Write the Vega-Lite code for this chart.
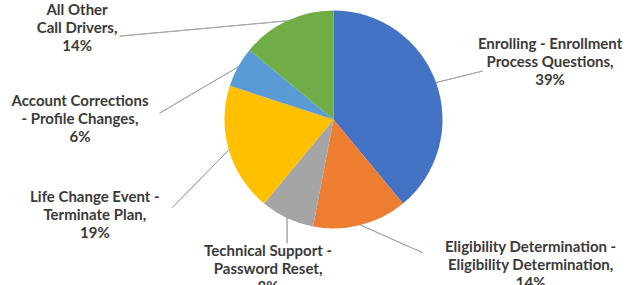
{
  "$schema": "https://vega.github.io/schema/vega-lite/v6.json",
  "width": 587,
  "height": 239,
  "autosize": "none",
  "padding": {"left": 40, "top": 0, "right": 0, "bottom": 46},
  "background": "white",
  "config": {"view": {"stroke": null}},
  "data": {
    "values": [
      {"category": "Enrolling - Enrollment Process Questions", "label": "Enrolling - Enrollment\nProcess Questions,\n39%", "value": 39},
      {"category": "Eligibility Determination - Eligibility Determination", "label": "Eligibility Determination -\nEligibility Determination,\n14%", "value": 14},
      {"category": "Technical Support - Password Reset", "label": "Technical Support -\nPassword Reset,\n8%", "value": 8},
      {"category": "Life Change Event - Terminate Plan", "label": "Life Change Event -\nTerminate Plan,\n19%", "value": 19},
      {"category": "Account Corrections - Profile Changes", "label": "Account Corrections\n- Profile Changes,\n6%", "value": 6},
      {"category": "All Other Call Drivers", "label": "All Other\nCall Drivers,\n14%", "value": 14}
    ]
  },
  "transform": [{"window": [{"op": "row_number", "as": "idx"}]}],
  "encoding": {
    "theta": {"field": "value", "type": "quantitative", "stack": true},
    "order": {"field": "idx", "type": "quantitative"},
    "detail": {"field": "category", "type": "nominal"}
  },
  "layer": [
    {
      "mark": {"type": "arc", "outerRadius": 109},
      "encoding": {
        "color": {
          "field": "category",
          "type": "nominal",
          "legend": null,
          "scale": {
            "domain": [
              "Enrolling - Enrollment Process Questions",
              "Eligibility Determination - Eligibility Determination",
              "Technical Support - Password Reset",
              "Life Change Event - Terminate Plan",
              "Account Corrections - Profile Changes",
              "All Other Call Drivers"
            ],
            "range": ["#4472C4", "#ED7D31", "#A5A5A5", "#FFC000", "#5B9BD5", "#70AD47"]
          }
        }
      }
    },
    {
      "mark": {
        "type": "arc",
        "innerRadius": 0,
        "outerRadius": {"expr": "[48,68,25,81,91,168][datum.idx-1]"},
        "padAngle": 3.1,
        "thetaOffset": {"expr": "[0.103,-0.90,-0.44,-0.513,-1.035,-1.222][datum.idx-1]"},
        "x": {"expr": "width/2+109*sin(PI*(datum.value_start+datum.value_end)/100)"},
        "y": {"expr": "height/2-109*cos(PI*(datum.value_start+datum.value_end)/100)"},
        "filled": false,
        "stroke": "#A6A6A6",
        "strokeWidth": 1
      }
    },
    {
      "mark": {
        "type": "text",
        "radius": 109,
        "dx": {"expr": "[114,170,-19,-134,-158,-210][datum.idx-1]"},
        "dy": {"expr": "[-39,22,33,47,34,-11][datum.idx-1]"},
        "lineBreak": "\n",
        "font": "Lato",
        "fontWeight": "bold",
        "fontSize": 15,
        "lineHeight": 18,
        "color": "#3A3A3A",
        "align": "center",
        "baseline": "middle"
      },
      "encoding": {"text": {"field": "label", "type": "nominal"}}
    }
  ]
}
